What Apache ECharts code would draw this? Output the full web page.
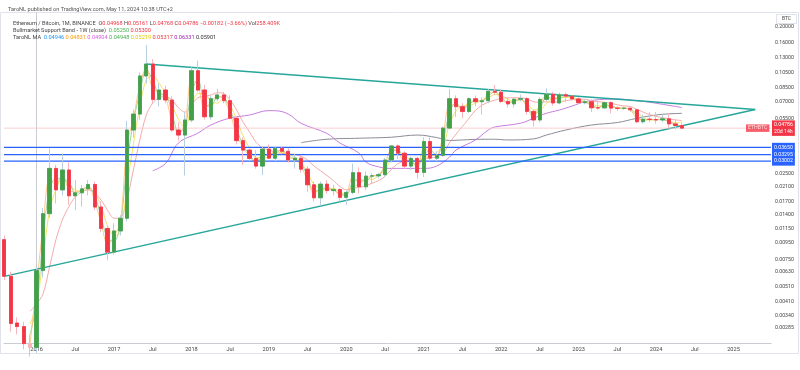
<!DOCTYPE html>
<html><head><meta charset="utf-8">
<script src="https://cdn.jsdelivr.net/npm/echarts@6/dist/echarts.min.js"></script>
<style>html,body{margin:0;padding:0;background:#fff}#c{width:800px;height:370px}</style>
</head><body><div id="c"></div><script>
// ---- data (monthly ETH/BTC candles from 2015-08) ----
const startMonth = '2015-08';
const opens = [0.0099,0.0059,0.00305,0.0029,0.00228,
0.00216,0.0064,0.0143,0.0271,0.0200,0.0265,0.0184,0.0192,0.0203,0.0216,0.0157,0.0116,
0.0083,0.0112,0.0134,0.0466,0.0584,0.1000,0.1184,0.0718,0.0820,0.0712,0.0466,0.0434,
0.0537,0.1077,0.0820,0.0562,0.0725,0.0765,0.0706,0.0550,0.0401,0.0351,0.0312,0.0280,
0.0356,0.0313,0.0360,0.0345,0.0305,0.0313,0.0268,0.0215,0.0179,0.0217,0.0198,0.0201,
0.0180,0.0193,0.0255,0.0209,0.0243,0.0244,0.0248,0.0305,0.0372,0.0336,0.0280,0.0312,
0.0256,0.0396,0.0313,0.0326,0.0479,0.0725,0.0648,0.0605,0.0725,0.0695,0.0705,0.0805,
0.0795,0.0698,0.0674,0.0720,0.0726,0.0606,0.0537,0.0718,0.0772,0.0683,0.0767,0.0752,
0.0723,0.0686,0.0695,0.0638,0.0637,0.0686,0.0635,0.0633,0.0634,0.0620,0.0524,0.0543,
0.0541,0.0537,0.0546,0.0508,0.04968];
const highs = [0.0105,0.0063,0.0033,0.0031,0.0026,
0.0068,0.0155,0.0360,0.0285,0.0335,0.0295,0.0230,0.0215,0.0230,0.0225,0.0170,0.0120,
0.0125,0.0140,0.0530,0.0620,0.1050,0.1550,0.1270,0.0900,0.0870,0.0750,0.0520,0.0600,
0.1130,0.1240,0.0880,0.0760,0.0835,0.0800,0.0760,0.0565,0.0420,0.0356,0.0350,0.0370,
0.0380,0.0370,0.0370,0.0360,0.0335,0.0325,0.0280,0.0225,0.0225,0.0230,0.0215,0.0205,
0.0198,0.0290,0.0275,0.0260,0.0252,0.0255,0.0315,0.0375,0.0380,0.0345,0.0320,0.0320,
0.0420,0.0420,0.0345,0.0490,0.0830,0.0760,0.0680,0.0740,0.0760,0.0740,0.0830,0.0880,
0.0820,0.0740,0.0730,0.0770,0.0740,0.0620,0.0740,0.0840,0.0800,0.0790,0.0790,0.0760,
0.0740,0.0720,0.0720,0.0700,0.0695,0.0700,0.0650,0.0650,0.0640,0.0625,0.0580,0.0600,
0.0600,0.0580,0.0590,0.0540,0.05161];
const lows = [0.0056,0.0027,0.0026,0.0021,0.0019,
0.0020,0.0058,0.0135,0.0165,0.0185,0.0162,0.0150,0.0158,0.0185,0.0150,0.0110,0.0074,
0.0080,0.0105,0.0128,0.0420,0.0540,0.0900,0.0680,0.0650,0.0680,0.0455,0.0400,0.0245,
0.0520,0.0800,0.0540,0.0540,0.0700,0.0680,0.0540,0.0380,0.0285,0.0300,0.0270,0.0247,
0.0310,0.0300,0.0330,0.0295,0.0270,0.0255,0.0195,0.0170,0.0160,0.0190,0.0185,0.0170,
0.0162,0.0188,0.0190,0.0200,0.0220,0.0235,0.0240,0.0295,0.0310,0.0270,0.0265,0.0235,
0.0240,0.0300,0.0300,0.0320,0.0470,0.0560,0.0550,0.0590,0.0650,0.0580,0.0680,0.0770,
0.0680,0.0640,0.0640,0.0700,0.0580,0.0490,0.0520,0.0700,0.0657,0.0670,0.0690,0.0710,
0.0680,0.0670,0.0600,0.0620,0.0630,0.0590,0.0610,0.0620,0.0600,0.0515,0.0510,0.0520,
0.0510,0.0520,0.0480,0.0470,0.04768];
const closes = [0.0059,0.00303,0.0029,0.00228,0.00216,
0.0064,0.0143,0.0271,0.0200,0.0265,0.0184,0.0192,0.0203,0.0216,0.0157,0.0116,0.0083,
0.0112,0.0134,0.0466,0.0584,0.1000,0.1184,0.0718,0.0820,0.0712,0.0466,0.0434,0.0537,
0.1077,0.0820,0.0562,0.0725,0.0765,0.0706,0.0550,0.0401,0.0351,0.0312,0.0280,0.0356,
0.0313,0.0360,0.0345,0.0305,0.0313,0.0268,0.0215,0.0179,0.0217,0.0198,0.0201,0.0180,
0.0193,0.0255,0.0209,0.0243,0.0244,0.0248,0.0305,0.0372,0.0336,0.0280,0.0312,0.0256,
0.0396,0.0313,0.0326,0.0479,0.0725,0.0648,0.0605,0.0725,0.0695,0.0705,0.0805,0.0795,
0.0698,0.0674,0.0720,0.0726,0.0606,0.0537,0.0718,0.0772,0.0683,0.0767,0.0752,0.0723,
0.0686,0.0695,0.0638,0.0637,0.0686,0.0635,0.0633,0.0634,0.0620,0.0524,0.0543,0.0541,
0.0537,0.0546,0.0508,0.04968,0.04786];

// moving-average ribbon, monthly from 2015-12
const ribbonStart = '2015-12';
const maOrange = [0.0023,
0.0052,0.0120,0.0235,0.0215,0.0250,0.0200,0.0194,0.0200,0.0212,0.0170,0.0126,0.0092,
0.0104,0.0128,0.0380,0.0545,0.0880,0.1130,0.0830,0.0800,0.0735,0.0520,0.0445,0.0513,
0.0950,0.0880,0.0625,0.0690,0.0755,0.0720,0.0590,0.0435,0.0365,0.0322,0.0288,0.0338,
0.0323,0.0349,0.0348,0.0315,0.0311,0.0279,0.0228,0.0188,0.0208,0.0202,0.0201,0.0185,
0.0190,0.0240,0.0220,0.0235,0.0244,0.0247,0.0290,0.0355,0.0344,0.0294,0.0305,0.0270,
0.0365,0.0333,0.0323,0.0440,0.0665,0.0667,0.0615,0.0695,0.0702,0.0703,0.0780,0.0797,
0.0722,0.0680,0.0709,0.0725,0.0636,0.0555,0.0675,0.0759,0.0704,0.0747,0.0756,0.0730,
0.0695,0.0693,0.0651,0.0637,0.0674,0.0647,0.0634,0.0634,0.0623,0.0546,0.0538,0.0541,
0.0538,0.0544,0.0517,0.0502,0.0483];
const maYellow = [0.0030,
0.0040,0.0075,0.0150,0.0200,0.0235,0.0215,0.0200,0.0195,0.0205,0.0190,0.0160,0.0120,
0.0105,0.0110,0.0210,0.0380,0.0650,0.0950,0.1000,0.0900,0.0780,0.0660,0.0540,0.0480,
0.0650,0.0780,0.0780,0.0700,0.0680,0.0730,0.0660,0.0540,0.0430,0.0360,0.0315,0.0315,
0.0318,0.0340,0.0340,0.0330,0.0320,0.0295,0.0255,0.0215,0.0205,0.0198,0.0205,0.0193,
0.0190,0.0210,0.0215,0.0235,0.0232,0.0245,0.0265,0.0310,0.0335,0.0325,0.0305,0.0280,
0.0315,0.0320,0.0340,0.0370,0.0510,0.0610,0.0660,0.0660,0.0680,0.0710,0.0735,0.0770,
0.0760,0.0720,0.0700,0.0710,0.0680,0.0620,0.0620,0.0680,0.0720,0.0740,0.0735,0.0745,
0.0715,0.0700,0.0675,0.0655,0.0655,0.0650,0.0640,0.0635,0.0628,0.0590,0.0560,0.0535,
0.0540,0.0540,0.0530,0.0515,0.0522];
const maGreen = [0.0026,
0.0040,0.0100,0.0205,0.0235,0.0232,0.0225,0.0190,0.0198,0.0210,0.0185,0.0137,0.0100,
0.0097,0.0123,0.0290,0.0525,0.0790,0.1090,0.0950,0.0770,0.0765,0.0590,0.0450,0.0485,
0.0800,0.0950,0.0690,0.0645,0.0745,0.0735,0.0625,0.0475,0.0375,0.0330,0.0296,0.0318,
0.0333,0.0337,0.0352,0.0325,0.0309,0.0290,0.0241,0.0197,0.0198,0.0207,0.0200,0.0190,
0.0186,0.0224,0.0232,0.0226,0.0243,0.0246,0.0276,0.0338,0.0354,0.0308,0.0296,0.0284,
0.0326,0.0354,0.0320,0.0402,0.0600,0.0685,0.0626,0.0665,0.0710,0.0700,0.0755,0.0800,
0.0746,0.0686,0.0697,0.0723,0.0666,0.0571,0.0627,0.0745,0.0727,0.0725,0.0759,0.0737,
0.0704,0.0690,0.0666,0.0637,0.0661,0.0660,0.0634,0.0633,0.0627,0.0572,0.0533,0.0542,
0.0539,0.0541,0.0527,0.0502,0.0495];
const maSalmon = [0.0036,
0.0040,0.0046,0.0067,0.0099,0.0131,0.0158,0.0181,0.0194,0.0200,0.0191,0.0173,0.0150,
0.0134,0.0135,0.0173,0.0265,0.0405,0.0576,0.0683,0.0735,0.0750,0.0712,0.0636,0.0600,
0.0664,0.0735,0.0750,0.0764,0.0790,0.0780,0.0712,0.0618,0.0520,0.0453,0.0393,0.0362,
0.0351,0.0340,0.0335,0.0333,0.0330,0.0322,0.0305,0.0280,0.0262,0.0245,0.0228,0.0210,
0.0200,0.0205,0.0207,0.0212,0.0220,0.0228,0.0242,0.0268,0.0290,0.0300,0.0305,0.0300,
0.0310,0.0315,0.0318,0.0335,0.0390,0.0440,0.0490,0.0550,0.0615,0.0660,0.0690,0.0710,
0.0730,0.0735,0.0735,0.0735,0.0720,0.0695,0.0690,0.0695,0.0690,0.0695,0.0705,0.0715,
0.0720,0.0720,0.0705,0.0695,0.0690,0.0680,0.0665,0.0655,0.0650,0.0625,0.0600,0.0580,
0.0565,0.0555,0.0545,0.0538,0.0532];
const maPurple = [['2017-07',0.0262],['2017-09',0.0291],['2017-11',0.0388],['2018-02',0.0446],['2018-04',0.0500],
['2018-07',0.0552],['2018-10',0.0576],['2019-01',0.0613],['2019-02',0.0612],['2019-04',0.0584],['2019-06',0.0512],
['2019-10',0.0444],['2019-12',0.0388],['2020-03',0.0336],['2020-04',0.0297],['2020-06',0.0277],['2020-08',0.0271],
['2020-11',0.0271],['2021-01',0.0271],['2021-03',0.0280],['2021-05',0.0318],['2021-06',0.0351],['2021-09',0.0405],
['2021-11',0.0466],['2021-12',0.0486],['2022-04',0.0513],['2022-06',0.0550],['2022-08',0.0590],['2022-10',0.0618],
['2022-12',0.0654],['2023-02',0.0695],['2023-05',0.0719],['2023-07',0.0722],['2023-10',0.0705],['2023-12',0.0690],
['2024-03',0.0660],['2024-05',0.0640]];
const maGray = [['2019-06',0.0390],['2019-10',0.0409],['2020-03',0.0415],['2020-08',0.0421],['2020-12',0.0434],
['2021-03',0.0419],['2021-05',0.0402],['2021-07',0.0405],['2021-10',0.0409],['2021-12',0.0409],['2022-02',0.0405],
['2022-06',0.0411],['2022-08',0.0434],['2022-11',0.0466],['2023-03',0.0500],['2023-07',0.0518],['2023-10',0.0550],
['2023-12',0.0568],['2024-02',0.0582],['2024-05',0.0590]];

// triangle trend lines
const trendUpper = [['2017-06',0.1185],['2025-04-12',0.0623]];
const trendLower = [['2015-08',0.0059],['2025-04-12',0.0623]];
// horizontal levels
const blueLevels = [0.03650,0.03295,0.03002];
const lastPrice = 0.04786;
const countdown = '20d 14h';
const symbolName = 'ETHBTC';
// axis ticks
const yTicks = [0.2,0.16,0.13,0.105,0.085,0.07,0.055,0.025,0.021,0.017,0.014,0.0115,0.0095,0.0075,0.0063,0.0051,0.0041,0.0034,0.00285];
const xTicks = ['2016-01','2016-07','2017-01','2017-07','2018-01','2018-07','2019-01','2019-07','2020-01','2020-07',
'2021-01','2021-07','2022-01','2022-07','2023-01','2023-07','2024-01','2024-07','2025-01'];
// legend values
const ohlcText = ['0.04968','0.05161','0.04768','0.04786 \u22120.00182 (\u22123.66%)','258.409K'];
const bandValues = ['0.05250','0.05300'];
const maValues = ['0.04946','0.04831','0.04904','0.04948','0.05219','0.05317','0.06331','0.05901'];

// ---- helpers ----
function monthIndex(s){const p=s.split('-').map(Number);return (p[0]-2016)*12+(p[1]-1)+(p[2]?(p[2]-1)/30:0);}
const X_MIN = -5.05, X_MAX = 113.81;
const m0 = monthIndex(startMonth);
const candleFull = closes.map((c,k)=>[m0+k, opens[k], c, lows[k], highs[k]]);
const candleBody = closes.map((c,k)=>[m0+k, opens[k], c, Math.min(opens[k],c), Math.max(opens[k],c)]);
const r0 = monthIndex(ribbonStart);
const rib = a => a.map((v,j)=>[r0+j, v]);
const pts = a => a.map(p=>[monthIndex(p[0]), p[1]]);

const FONT = 'Roboto';
const fs = 5.6;
const st = (c)=>({color:c, fontSize:fs, lineHeight:7, fontFamily:FONT});
const maColors = ['#2196f3','#ff9800','#d65ce0','#4caf50','#e8cc00','#f23645','#9c27b0','#333333'];

function levelSeries(v, color, width, labelText, labelBg){
  return {type:'line', data:[[X_MIN, v],[X_MAX, v]], symbol:'none', silent:true, z:3,
    lineStyle:{color:color, width:width},
    endLabel:{show:true, distance:1, formatter:labelText, backgroundColor:labelBg, color:'#fff',
      fontSize:5.2, lineHeight:6.5, padding:[1.5,2,1,2], fontFamily:FONT, align:'left'}};
}
function maLine(name, data, color, width, smooth){
  return {type:'line', name:name, data:data, symbol:'none', smooth:smooth, silent:true, lineStyle:{color:color, width:width}, z:2};
}

const chart = echarts.init(document.getElementById('c'), null, {renderer:'canvas'});
chart.setOption({
  animation:false,
  backgroundColor:'#ffffff',
  title:[
    {left:3, top:2, text:'TaroNL published on TradingView.com, May 11, 2024 10:38 UTC+2',
     textStyle:{fontSize:fs, fontWeight:'normal', color:'#555', fontFamily:FONT}},
    {left:8, top:15, text:
      '{t|Ethereum / Bitcoin, 1M, BINANCE  O}{r|'+ohlcText[0]+'}{t| H}{r|'+ohlcText[1]+'}{t| L}{r|'+ohlcText[2]+'}{t| C}{r|'+ohlcText[3]+'}{t| Vol}{r|'+ohlcText[4]+'}\n'+
      '{t|Bullmarket Support Band - 1W (close)  }{g|'+bandValues[0]+'}{t| }{r|'+bandValues[1]+'}\n'+
      '{t|TaroNL MA  }'+maValues.map((v,i)=>'{m'+i+'|'+v+'}').join('{t| }'),
     textStyle:{fontSize:fs, fontWeight:'normal', color:'#444', lineHeight:7, fontFamily:FONT,
       rich:Object.assign({t:st('#444'), r:st('#f23645'), g:st('#4caf50')},
         Object.fromEntries(maColors.map((c,i)=>['m'+i, st(c)])))}},
    {left:5, top:359, text:'{b|TV} {t|TradingView}',
     textStyle:{rich:{b:{fontSize:7, fontWeight:'bold', color:'#131722', fontFamily:FONT}, t:{fontSize:6, color:'#131722', fontFamily:FONT}}}}
  ],
  graphic:[
    {type:'rect', shape:{x:0.5,y:12.5,width:798,height:341}, style:{fill:null, stroke:'#e0e3eb', lineWidth:1}, silent:true},
    {type:'rect', shape:{x:776.5,y:14.5,width:20,height:9}, style:{fill:'#fff', stroke:'#e0e3eb', lineWidth:1}, silent:true},
    {type:'text', x:786.5, y:19, style:{text:'BTC', fontSize:5, fill:'#444', align:'center', verticalAlign:'middle', fontFamily:FONT}, silent:true}
  ],
  grid:{left:4, right:29, top:13, bottom:27},
  xAxis:{type:'value', min:X_MIN, max:X_MAX,
    axisLine:{show:true, lineStyle:{color:'#c9ccd3'}}, axisTick:{show:false}, splitLine:{show:false},
    axisLabel:{customValues:xTicks.map(monthIndex), formatter:v=>(Math.round(v)%12===0?String(2016+Math.round(v)/12):'Jul'),
      fontSize:fs, color:'#444', margin:4, fontFamily:FONT}},
  yAxis:{type:'log', logBase:10, min:0.0023, max:0.2434, position:'right',
    axisLine:{show:true, lineStyle:{color:'#c9ccd3'}}, axisTick:{show:false}, splitLine:{show:false},
    axisLabel:{customValues:yTicks, formatter:v=>Number(v).toFixed(5), fontSize:5.2, color:'#444', margin:4, fontFamily:FONT}},
  series:[
    maLine('maGray', pts(maGray), '#8a8d96', 1, 0.4),
    maLine('maPurple', pts(maPurple), '#c77ee0', 1, 0.4),
    maLine('maSalmon', rib(maSalmon), '#f4a0a0', 0.9, 0.3),
    maLine('maYellow', rib(maYellow), '#f2e05a', 0.9, 0.3),
    maLine('maGreen', rib(maGreen), '#94cf95', 0.9, 0.3),
    maLine('maOrange', rib(maOrange), '#ffc27a', 0.9, 0.3),
    {type:'line', name:'upper', data:pts(trendUpper), symbol:'none', silent:true, lineStyle:{color:'#26a69a', width:1.4}, z:3},
    {type:'line', name:'lower', data:pts(trendLower), symbol:'none', silent:true, lineStyle:{color:'#26a69a', width:1.4}, z:3},
    ...blueLevels.map(v=>levelSeries(v, '#2962ff', 1.2, v.toFixed(5), '#2962ff')),
    levelSeries(lastPrice, '#f9c3c8', 0.8, lastPrice.toFixed(5)+'\n'+countdown, '#f23645'),
    {type:'scatter', name:'symbolTag', data:[[X_MAX-0.02, lastPrice]], symbolSize:1, itemStyle:{color:'rgba(0,0,0,0)'}, silent:true, z:6,
     label:{show:true, position:'left', distance:1, formatter:symbolName, backgroundColor:'#f23645', color:'#fff',
       fontSize:5.2, padding:[1.5,2,1,2], fontFamily:FONT}},
    {type:'candlestick', name:'wicks', data:candleFull, barWidth:3.8,
     dimensions:['t','open','close','low','high'], encode:{x:'t', y:['open','close','low','high']},
     itemStyle:{color:'#b7cfe0', color0:'#f6b6bd', borderColor:'#b7cfe0', borderColor0:'#f6b6bd', borderWidth:1}, z:4},
    {type:'candlestick', name:'bodies', data:candleBody, barWidth:3.8,
     dimensions:['t','open','close','low','high'], encode:{x:'t', y:['open','close','low','high']},
     itemStyle:{color:'#43a047', color0:'#f23645', borderColor:'#43a047', borderColor0:'#f23645', borderWidth:0.8}, z:5}
  ]
});
</script></body></html>
